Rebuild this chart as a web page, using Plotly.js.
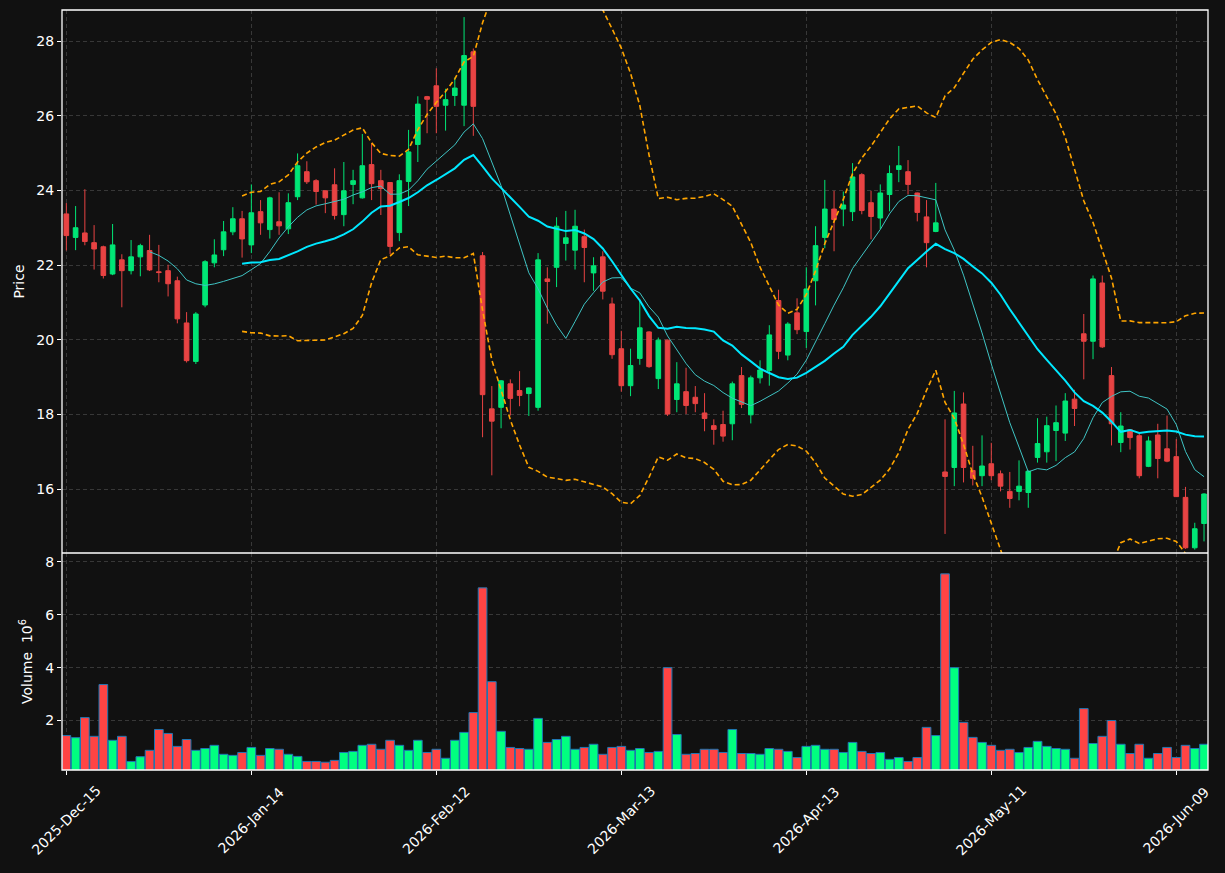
<!DOCTYPE html>
<html><head><meta charset="utf-8">
<script src="https://cdn.plot.ly/plotly-3.0.1.min.js"></script>
<style>html,body{margin:0;padding:0;background:#111111;} #chart{width:1225px;height:873px;}</style>
</head><body><div id="chart"></div>
<script>
const dates = [
'2025-Dec-15','2025-Dec-16','2025-Dec-17','2025-Dec-18','2025-Dec-19',
'2025-Dec-22','2025-Dec-23','2025-Dec-24','2025-Dec-26',
'2025-Dec-29','2025-Dec-30','2025-Dec-31','2026-Jan-02',
'2026-Jan-05','2026-Jan-06','2026-Jan-07','2026-Jan-08','2026-Jan-09',
'2026-Jan-12','2026-Jan-13','2026-Jan-14','2026-Jan-15','2026-Jan-16',
'2026-Jan-20','2026-Jan-21','2026-Jan-22','2026-Jan-23',
'2026-Jan-26','2026-Jan-27','2026-Jan-28','2026-Jan-29','2026-Jan-30',
'2026-Feb-02','2026-Feb-03','2026-Feb-04','2026-Feb-05','2026-Feb-06',
'2026-Feb-09','2026-Feb-10','2026-Feb-11','2026-Feb-12','2026-Feb-13',
'2026-Feb-17','2026-Feb-18','2026-Feb-19','2026-Feb-20',
'2026-Feb-23','2026-Feb-24','2026-Feb-25','2026-Feb-26','2026-Feb-27',
'2026-Mar-02','2026-Mar-03','2026-Mar-04','2026-Mar-05','2026-Mar-06',
'2026-Mar-09','2026-Mar-10','2026-Mar-11','2026-Mar-12','2026-Mar-13',
'2026-Mar-16','2026-Mar-17','2026-Mar-18','2026-Mar-19','2026-Mar-20',
'2026-Mar-23','2026-Mar-24','2026-Mar-25','2026-Mar-26','2026-Mar-27',
'2026-Mar-30','2026-Mar-31','2026-Apr-01','2026-Apr-02',
'2026-Apr-06','2026-Apr-07','2026-Apr-08','2026-Apr-09','2026-Apr-10',
'2026-Apr-13','2026-Apr-14','2026-Apr-15','2026-Apr-16','2026-Apr-17',
'2026-Apr-20','2026-Apr-21','2026-Apr-22','2026-Apr-23','2026-Apr-24',
'2026-Apr-27','2026-Apr-28','2026-Apr-29','2026-Apr-30','2026-May-01',
'2026-May-04','2026-May-05','2026-May-06','2026-May-07','2026-May-08',
'2026-May-11','2026-May-12','2026-May-13','2026-May-14','2026-May-15',
'2026-May-18','2026-May-19','2026-May-20','2026-May-21','2026-May-22',
'2026-May-26','2026-May-27','2026-May-28','2026-May-29',
'2026-Jun-01','2026-Jun-02','2026-Jun-03','2026-Jun-04','2026-Jun-05',
'2026-Jun-08','2026-Jun-09','2026-Jun-10','2026-Jun-11','2026-Jun-12'
];

const openP = [
23.37,22.74,22.86,22.60,22.49,21.76,22.14,21.85,22.22,22.39,
21.82,21.85,21.58,20.45,19.42,20.93,22.06,22.41,22.89,23.24,
22.54,23.43,22.95,23.16,22.97,23.83,24.50,24.26,23.99,24.15,
23.35,24.16,23.80,24.69,24.26,24.21,22.87,24.24,25.23,26.51,
26.80,26.28,26.54,26.28,27.71,22.25,18.15,18.19,18.82,18.64,
18.56,18.19,21.63,21.94,22.58,22.40,22.76,21.79,22.22,20.96,
19.76,18.77,19.50,20.21,18.96,19.99,18.40,18.61,18.46,18.04,
17.70,17.73,17.75,19.04,17.99,18.98,19.18,21.05,19.59,20.72,
20.22,21.58,22.74,23.50,23.50,23.43,24.42,23.67,23.26,23.89,
24.56,24.50,23.93,23.29,22.90,16.46,16.58,18.28,16.50,16.36,
16.68,16.41,15.94,15.94,15.91,16.85,17.00,17.57,17.50,18.41,
20.16,19.96,21.52,19.04,17.25,17.59,17.43,16.61,17.45,17.08,
16.87,15.78,14.43,15.08
];
const highP = [
23.66,23.58,24.03,23.07,22.52,23.10,22.29,22.67,22.57,22.81,
22.54,22.01,21.69,20.74,20.74,22.13,22.69,23.18,23.55,23.45,
24.16,23.74,23.83,23.95,23.92,24.99,24.78,24.30,24.00,24.59,
24.76,24.55,25.51,25.27,24.55,24.22,24.43,25.62,26.52,26.53,
27.27,26.72,27.02,28.64,27.80,22.35,18.76,18.92,18.94,19.16,
18.72,22.32,21.94,23.28,23.45,23.48,22.95,22.21,22.37,21.13,
20.24,19.76,21.08,20.23,20.06,20.00,19.40,19.25,18.76,18.57,
17.87,18.10,18.88,19.27,19.04,19.45,20.39,21.34,20.47,21.11,
21.94,23.04,24.28,23.99,23.97,24.73,24.46,23.99,24.16,24.67,
25.19,24.81,23.94,23.74,24.20,17.87,18.63,18.59,17.16,17.44,
17.24,16.50,16.46,16.77,16.50,17.90,17.94,18.24,18.57,18.66,
20.69,21.72,21.72,19.27,18.06,17.60,17.50,17.41,17.75,17.97,
17.34,16.06,15.10,15.89
];
const lowP = [
22.39,22.40,22.53,21.88,21.64,21.73,20.87,21.75,21.70,21.84,
21.54,21.16,20.44,19.39,19.35,20.87,21.94,22.24,22.80,22.20,
22.32,22.81,22.71,22.81,22.83,23.74,24.17,23.62,23.39,23.22,
23.04,23.63,23.78,23.74,23.34,22.29,22.64,23.58,24.76,25.53,
25.53,25.60,26.26,25.72,25.46,17.39,16.37,17.63,17.97,18.22,
17.96,18.10,20.43,21.41,22.12,21.88,21.54,21.31,21.08,19.49,
18.61,18.49,19.33,19.25,18.68,17.96,18.06,18.01,18.06,17.55,
17.19,17.27,17.31,18.17,17.76,18.83,18.77,19.48,19.45,20.15,
19.78,20.92,22.45,22.37,23.04,23.18,23.36,22.69,22.96,23.44,
24.22,23.89,23.17,21.94,22.88,14.80,16.08,16.18,16.10,16.08,
16.24,15.94,15.50,15.70,15.50,16.71,16.71,16.75,17.29,17.69,
18.94,19.48,19.78,17.17,16.99,17.06,16.29,16.59,16.29,16.72,
15.79,14.40,14.38,14.60
];
const closeP = [
22.79,23.00,22.63,22.43,21.72,22.54,21.85,22.22,22.52,21.87,
21.80,21.50,20.56,19.44,20.69,22.09,22.27,22.89,23.24,22.70,
23.40,23.13,23.80,23.05,23.67,24.66,24.23,23.97,23.80,23.33,
23.99,24.26,24.66,24.18,24.05,22.50,24.26,25.03,26.31,26.44,
26.25,26.43,26.74,27.61,26.25,18.53,17.82,18.90,18.43,18.51,
18.71,22.14,21.56,23.04,22.73,23.04,22.47,21.98,21.30,19.60,
18.77,19.31,20.32,19.28,19.99,18.01,18.82,18.24,18.29,17.89,
17.60,17.42,18.82,18.27,18.98,19.19,20.13,19.69,20.42,20.27,
21.36,22.52,23.50,23.22,23.61,24.36,23.46,23.30,23.93,24.45,
24.66,24.16,23.41,22.60,23.13,16.34,18.04,16.58,16.29,16.62,
16.36,16.08,15.75,16.08,16.48,17.22,17.70,17.78,18.36,18.16,
19.96,21.63,19.81,17.75,17.69,17.38,16.36,17.29,16.82,16.75,
15.80,14.43,14.94,15.87
];
// volume in millions (axis shows x 10^6)
const volume = [
1.43,1.35,2.11,1.40,3.36,1.25,1.40,0.45,0.63,0.87,
1.66,1.51,1.02,1.28,0.87,0.94,1.06,0.72,0.68,0.79,
0.98,0.68,0.94,0.91,0.72,0.64,0.45,0.45,0.42,0.49,
0.79,0.83,1.06,1.10,0.91,1.25,1.06,0.87,1.25,0.79,
0.91,0.57,1.25,1.55,2.30,7.02,3.47,1.59,0.98,0.94,
0.91,2.08,1.17,1.28,1.40,0.91,0.98,1.10,0.72,0.98,
1.02,0.87,0.94,0.79,0.83,4.00,1.47,0.72,0.75,0.91,
0.91,0.79,1.66,0.75,0.75,0.72,0.94,0.91,0.83,0.60,
1.02,1.06,0.91,0.91,0.79,1.17,0.83,0.75,0.79,0.53,
0.60,0.45,0.60,1.74,1.43,7.55,4.00,1.93,1.36,1.17,
1.06,0.87,0.91,0.79,0.98,1.21,1.02,0.94,0.91,0.57,
2.45,1.13,1.40,2.00,1.10,0.75,1.10,0.57,0.75,0.98,
0.60,1.06,0.94,1.10
];
const tickDates = ['2025-Dec-15','2026-Jan-14','2026-Feb-12','2026-Mar-13','2026-Apr-13','2026-May-11','2026-Jun-09'];
const priceTicks = [16,18,20,22,24,26,28];
const volumeTicks = [2,4,6,8];

const UP = '#00e676', DOWN = '#e84343';
const VUP = '#00ff80', VDOWN = '#ff4444';

// indicators derived from the close series (10 and 20 period means, 20-period +/- 2 std bands)
function rollMean(a, n){ return a.map((_, i) => i < n-1 ? null : a.slice(i-n+1, i+1).reduce((s, v) => s+v, 0)/n); }
function rollStd(a, n){ return a.map((_, i) => { if(i < n-1) return null; const w = a.slice(i-n+1, i+1); const m = w.reduce((s,v)=>s+v,0)/n; return Math.sqrt(w.reduce((s,v)=>s+(v-m)*(v-m),0)/n); }); }
const ma10 = rollMean(closeP, 10);
const ma20 = rollMean(closeP, 20);
const sd20 = rollStd(closeP, 20);
const bbUp = ma20.map((m, i) => m === null ? null : m + 2*sd20[i]);
const bbLo = ma20.map((m, i) => m === null ? null : m - 2*sd20[i]);

const volColors = closeP.map((c, i) => c >= openP[i] ? VUP : VDOWN);

const traces = [
  {type:'candlestick', x:dates, open:openP, high:highP, low:lowP, close:closeP,
   xaxis:'x', yaxis:'y', whiskerwidth:0,
   increasing:{line:{color:UP, width:1}, fillcolor:UP},
   decreasing:{line:{color:DOWN, width:1}, fillcolor:DOWN},
   hoverinfo:'skip'},
  {type:'scatter', mode:'lines', x:dates, y:ma10, xaxis:'x', yaxis:'y',
   line:{color:'#3fc4c4', width:1}, hoverinfo:'skip'},
  {type:'scatter', mode:'lines', x:dates, y:ma20, xaxis:'x', yaxis:'y',
   line:{color:'#00e8ff', width:2}, hoverinfo:'skip'},
  {type:'scatter', mode:'lines', x:dates, y:bbUp, xaxis:'x', yaxis:'y',
   line:{color:'#ffa500', width:1.6, dash:'5px,3px'}, hoverinfo:'skip'},
  {type:'scatter', mode:'lines', x:dates, y:bbLo, xaxis:'x', yaxis:'y',
   line:{color:'#ffa500', width:1.6, dash:'5px,3px'}, hoverinfo:'skip'},
  {type:'bar', x:dates, y:volume, xaxis:'x', yaxis:'y2',
   marker:{color:volColors, line:{color:'#1f77b4', width:1}}, hoverinfo:'skip'}
];

const gridCol = '#383838';
const split = 217/760;
// rotated date labels centred under their ticks
const dateLabels = tickDates.map(d => ({
  xref:'x', yref:'paper', x:d, y:-0.066, text:d, showarrow:false,
  textangle:-45, xanchor:'center', yanchor:'middle',
  font:{size:14, color:'#ffffff', family:'DejaVu Sans, sans-serif'}
}));
const layout = {
  width:1225, height:873,
  paper_bgcolor:'#111111', plot_bgcolor:'#111111',
  margin:{l:62, r:17, t:10, b:103, pad:0},
  showlegend:false,
  boxgap:0.5, boxgroupgap:0, bargap:0.06,
  font:{family:'DejaVu Sans, sans-serif', color:'#ffffff', size:14},
  xaxis:{type:'category', anchor:'y2', range:[-0.47, 123.43], tickvals:tickDates, ticktext:tickDates,
    showticklabels:false, ticks:'outside', ticklen:4, tickcolor:'#ffffff', tickwidth:1,
    showgrid:true, gridcolor:gridCol, griddash:'4px,3px', gridwidth:1,
    zeroline:false, showline:false, rangeslider:{visible:false}, fixedrange:true},
  yaxis:{domain:[split, 1], range:[14.29, 28.83], tickvals:priceTicks,
    ticks:'outside', ticklen:4, tickcolor:'#ffffff', showgrid:true, gridcolor:gridCol,
    griddash:'4px,3px', zeroline:false, showline:false, tickfont:{size:14, color:'#ffffff'},
    title:{text:'Price', font:{size:14, color:'#ffffff'}, standoff:8}},
  yaxis2:{domain:[0, split], range:[0.126, 8.34], tickvals:volumeTicks,
    ticks:'outside', ticklen:4, tickcolor:'#ffffff', showgrid:true, gridcolor:gridCol,
    griddash:'4px,3px', zeroline:false, showline:false, tickfont:{size:14, color:'#ffffff'},
    title:{text:'Volume  10<sup>6</sup>', font:{size:14, color:'#ffffff'}, standoff:9}},
  annotations: dateLabels,
  shapes:[
    {type:'rect', xref:'paper', yref:'paper', x0:0, x1:1, y0:0, y1:1, line:{color:'#ffffff', width:1.3}, layer:'above'},
    {type:'line', xref:'paper', yref:'paper', x0:0, x1:1, y0:split, y1:split, line:{color:'#ffffff', width:1.3}, layer:'above'}
  ]
};
Plotly.newPlot('chart', traces, layout, {staticPlot:true, displayModeBar:false});
</script>
</body></html>
